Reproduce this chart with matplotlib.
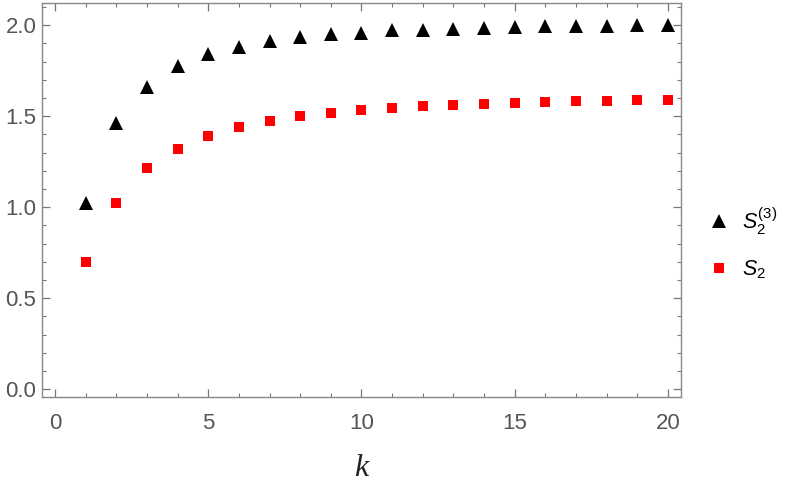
import matplotlib
matplotlib.use('Agg')
import matplotlib.pyplot as plt
from matplotlib.ticker import MultipleLocator

plt.rcParams['font.family'] = ['Liberation Sans', 'DejaVu Sans']
plt.rcParams['mathtext.fontset'] = 'custom'
plt.rcParams['mathtext.rm'] = 'Liberation Sans'
plt.rcParams['mathtext.it'] = 'Liberation Sans:italic'

# data
k = list(range(1, 21))
s2_3 = [1.022, 1.461, 1.662, 1.775, 1.843, 1.882, 1.914, 1.933, 1.953, 1.958,
        1.973, 1.976, 1.980, 1.985, 1.989, 1.993, 1.995, 1.997, 1.999, 2.0]
s2 = [0.701, 1.025, 1.213, 1.319, 1.391, 1.441, 1.472, 1.499, 1.518, 1.534,
      1.545, 1.554, 1.563, 1.569, 1.575, 1.578, 1.582, 1.584, 1.587, 1.589]

labels = [r'$S_2^{(3)}$', r'$S_2$']

fig = plt.figure(figsize=(7.93, 4.87), dpi=100)
ax = fig.add_axes([42 / 793, 1 - 397.3 / 487, (681 - 42) / 793, (397.3 - 3.3) / 487])

ax.plot(k, s2_3, linestyle='none', marker='^', ms=9.4, color='black', mec='black',
        mew=0, label=labels[0])
ax.plot(k, s2, linestyle='none', marker='s', ms=7.9, color='#ff0000', mec='#ff0000',
        mew=0, label=labels[1])

ax.set_xlim(-0.42, 20.42)
ax.set_ylim(-0.044, 2.12)

ax.xaxis.set_major_locator(MultipleLocator(5))
ax.xaxis.set_minor_locator(MultipleLocator(1))
ax.yaxis.set_major_locator(MultipleLocator(0.5))
ax.yaxis.set_minor_locator(MultipleLocator(0.1))
ax.yaxis.set_major_formatter(plt.FormatStrFormatter('%.1f'))

grey = '#777777'
for sp in ax.spines.values():
    sp.set_color('#888888')
    sp.set_linewidth(1.0)
ax.tick_params(which='both', direction='in', top=True, right=True, color=grey,
               labelcolor='#555555', labelsize=16)
ax.tick_params(which='major', length=5.5, width=0.9)
ax.tick_params(which='minor', length=3.2, width=0.8)
ax.tick_params(axis='x', pad=11)
ax.tick_params(axis='y', pad=4)

ax.set_xlabel('k', family=['Liberation Serif'], style='italic', fontsize=23,
              color='#222222', labelpad=15)

fig.legend(loc='center left', bbox_to_anchor=(700 / 793, 1 - 243 / 487),
           frameon=False, fontsize=15.5, handlelength=1.0, handletextpad=0.55,
           labelspacing=1.0, borderaxespad=0)

fig.savefig('out.png', dpi=100)
